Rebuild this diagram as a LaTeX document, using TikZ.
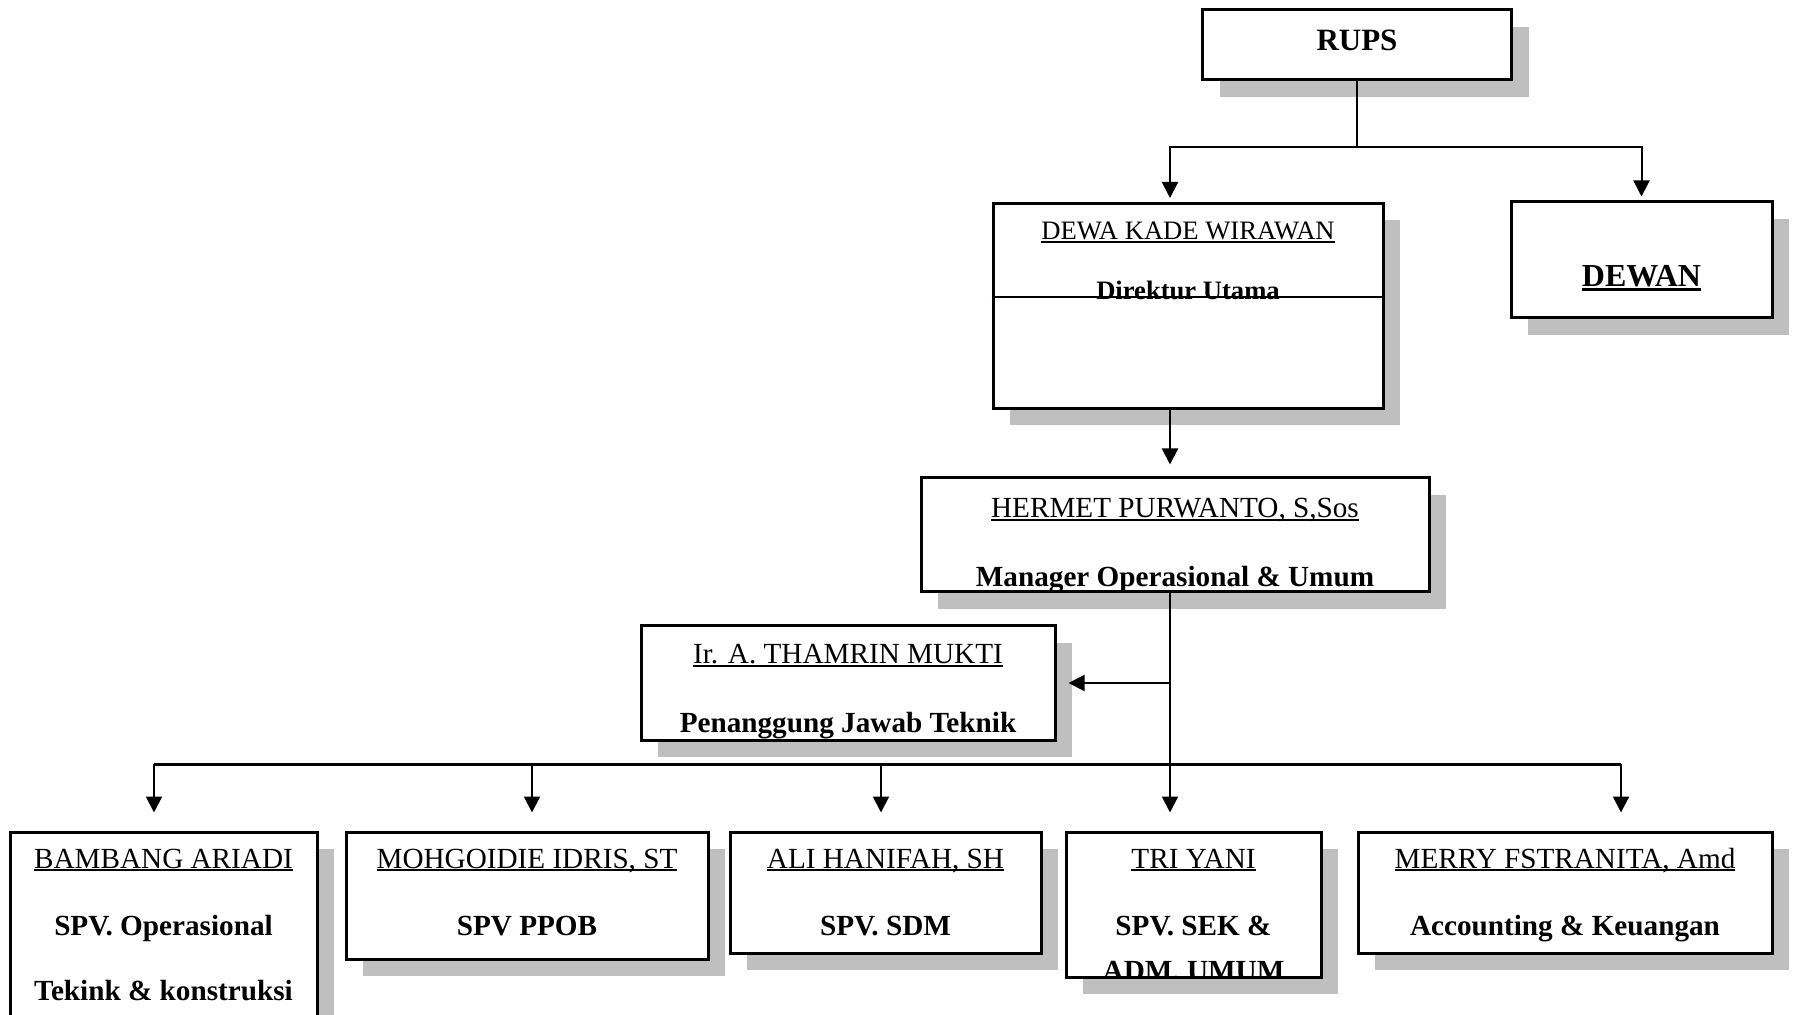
\documentclass[tikz,border=0pt]{standalone}
\usepackage{fontspec}
\setmainfont{Liberation Serif}
\usetikzlibrary{arrows.meta,shadows}

% underline close to the baseline, like the word processor does
\newcommand{\uname}[2][.9pt]{\setbox0\hbox{#2}\rlap{\rule[\dimexpr-.7pt-#1\relax]{\wd0}{#1}}\box0}

\begin{document}
\begin{tikzpicture}[x=0.5pt,y=-0.5pt,
  orgbox/.style={draw, line width=1.5pt, fill=white, inner sep=0pt,
    drop shadow={shadow xshift=8.5pt, shadow yshift=-8.5pt, fill=black!25, opacity=1}},
  nm/.style={anchor=base, inner sep=0pt, font=\fontsize{14.6}{17}\selectfont},
  ttl/.style={anchor=base, inner sep=0pt, font=\fontsize{14.6}{17}\selectfont\bfseries},
  link/.style={line width=1pt},
  arr/.style={line width=1pt, -{Triangle[length=8pt,width=8pt]}}]
\useasboundingbox (0,0) rectangle (1794,1015);

\newcommand{\boxtext}[5]{
  \begin{scope}
    \clip ([shift={(.75pt,.75pt)}]#2.south west) rectangle ([shift={(-.75pt,-.75pt)}]#2.north east);
    \node[#4] (#1) at (#2.center |- 0,#3) {#5};
  \end{scope}
}

% boxes
\node[orgbox, minimum width=154.5pt, minimum height=35pt] (rups) at (1357,45) {};
\node[orgbox, minimum width=195pt, minimum height=102.5pt] (dirut) at (1188,306) {};
\node[orgbox, minimum width=130.5pt, minimum height=58pt] (dewan) at (1641.5,260) {};
\node[orgbox, minimum width=254pt, minimum height=57pt] (manops) at (1175,535) {};
\node[orgbox, minimum width=207pt, minimum height=57pt] (pjt) at (848,683) {};
\node[orgbox, minimum width=153.5pt, minimum height=114pt] (spvops) at (163.5,946) {};
\node[orgbox, minimum width=181pt, minimum height=63.5pt] (spvppob) at (527,895.5) {};
\node[orgbox, minimum width=155.5pt, minimum height=60.5pt] (spvsdm) at (885.5,892.5) {};
\node[orgbox, minimum width=127.5pt, minimum height=72.5pt] (spvsek) at (1193.5,904.5) {};
\node[orgbox, minimum width=207pt, minimum height=60.5pt] (akt) at (1565,892.5) {};

% texts
\boxtext{rups-t}{rups}{51}{ttl, font=\fontsize{15.5}{18}\selectfont\bfseries}{RUPS}
\boxtext{dirut-n}{dirut}{240}{nm, font=\fontsize{13.3}{16}\selectfont}{\uname{DEWA KADE WIRAWAN}}
\boxtext{dirut-t}{dirut}{300}{ttl, font=\fontsize{13.3}{16}\selectfont\bfseries}{Direktur Utama}
\boxtext{dewan-t}{dewan}{287}{ttl, font=\fontsize{16}{19}\selectfont\bfseries}{\uname[1.5pt]{DEWAN}}
\boxtext{manops-n}{manops}{518}{nm}{\uname{HERMET PURWANTO, S,Sos}}
\boxtext{manops-t}{manops}{587}{ttl}{Manager Operasional \& Umum}
\boxtext{pjt-n}{pjt}{664}{nm}{\uname{Ir. A. THAMRIN MUKTI}}
\boxtext{pjt-t}{pjt}{733}{ttl}{Penanggung Jawab Teknik}
\boxtext{spvops-n}{spvops}{868}{nm}{\uname{BAMBANG ARIADI}}
\boxtext{spvops-t}{spvops}{935}{ttl}{SPV. Operasional}
\boxtext{spvops-u}{spvops}{1000}{ttl}{Tekink \& konstruksi}
\boxtext{spvppob-n}{spvppob}{868}{nm}{\uname{MOHGOIDIE IDRIS, ST}}
\boxtext{spvppob-t}{spvppob}{935}{ttl}{SPV PPOB}
\boxtext{spvsdm-n}{spvsdm}{868}{nm}{\uname{ALI HANIFAH, SH}}
\boxtext{spvsdm-t}{spvsdm}{935}{ttl}{SPV. SDM}
\boxtext{spvsek-n}{spvsek}{868}{nm}{\uname{TRI YANI}}
\boxtext{spvsek-t}{spvsek}{935}{ttl}{SPV. SEK \&}
\boxtext{spvsek-u}{spvsek}{980}{ttl}{ADM. UMUM}
\boxtext{akt-n}{akt}{868}{nm}{\uname{MERRY FSTRANITA, Amd}}
\boxtext{akt-t}{akt}{935}{ttl}{Accounting \& Keuangan}

% line across the director box
\draw[line width=.8pt] (dirut.west |- 0,297) -- (dirut.east |- 0,297);

% connectors
\coordinate (split) at (rups.south |- 0,147);
\coordinate (trunk) at ([xshift=-9pt]dirut.south);
\coordinate (bus) at (0,764);
\draw[link] (rups.south) -- (split);
\draw[arr, shorten >=2pt] (split) -| (trunk |- dirut.north);
\draw[arr, shorten >=2pt] (split) -| (dewan.north);
\draw[arr, shorten >=6pt] (trunk) -- (trunk |- manops.north);
\draw[arr, shorten >=9pt] (trunk |- manops.south) -- (trunk |- spvsek.north);
\draw[arr, shorten >=6pt] (trunk |- pjt.east) -- (pjt.east);
\draw[line width=1.5pt] ([xshift=-4.75pt]spvops.north |- bus) -- ([xshift=28pt]akt.north |- bus);
\foreach \b/\dx in {spvops/-4.75, spvppob/2.5, spvsdm/-2.25, akt/28}
  \draw[arr, shorten >=9pt] ([xshift=\dx pt]\b.north |- bus) -- ([xshift=\dx pt]\b.north);
\end{tikzpicture}
\end{document}
